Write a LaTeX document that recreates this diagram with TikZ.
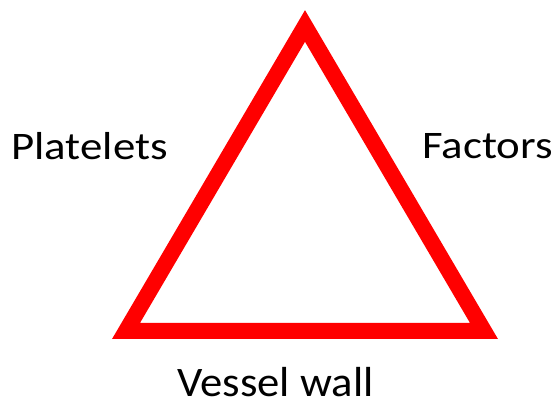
\documentclass[tikz,border=0pt]{standalone}
\usepackage{fontspec}
\setmainfont{Carlito}
\usetikzlibrary{positioning}

\begin{document}
\begin{tikzpicture}[x=1pt, y=1pt,
        label/.style={anchor=base, inner sep=0pt, xscale=1.15, font=\fontsize{39}{39}\selectfont},
        side/.style={draw=red, line width=16pt, line join=miter}]
        \useasboundingbox (0,0) rectangle (558,402);
        \coordinate (top)   at (305,376);
        \coordinate (left)  at (126,71);
        \coordinate (right) at (484,71);
        \draw[side] (top) -- (left) -- (right) -- cycle;

        \node[label] (plt) at (89.5,242) {Platelets};
        \node[label] (fac) at (487.5,243) {Factors};
        \node[label, xscale=0.925, font=\fontsize{42}{42}\selectfont] (ves) at (275.5,5) {Vessel wall};
    \end{tikzpicture}
\end{document}
